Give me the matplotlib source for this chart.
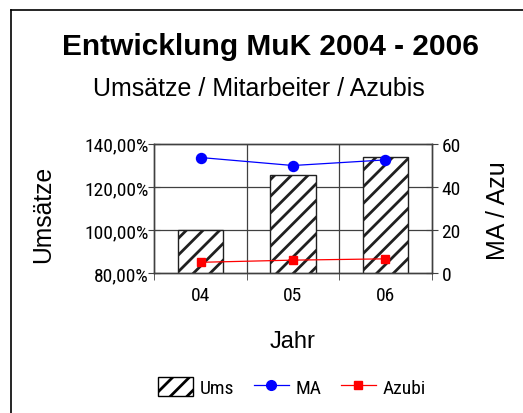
"""Entwicklung MuK 2004 - 2006: Umsatz-Balken mit MA/Azubi-Linien."""
import matplotlib
matplotlib.use("Agg")
import matplotlib.pyplot as plt
from matplotlib.patches import Patch
from matplotlib.lines import Line2D
from matplotlib.ticker import FuncFormatter

# data
jahre = ["04", "05", "06"]
umsatz = [100.0, 125.4, 133.7]     # in %
mitarbeiter = [53.6, 49.9, 52.5]
azubis = [5.1, 6.1, 6.7]

plt.rcParams["font.family"] = ["Liberation Sans", "DejaVu Sans"]
plt.rcParams["hatch.linewidth"] = 2.0
narrow = ["Roboto Condensed", "Liberation Sans", "DejaVu Sans"]
muster = "//"

fig = plt.figure(figsize=(5.23, 4.14), dpi=100)
ax = fig.add_axes([0.295, 0.3374, 0.8254 - 0.295, 0.6505 - 0.3374])
ax2 = ax.twinx()

x = list(range(len(jahre)))
ax.bar(x, umsatz, width=0.49, bottom=0, color="white", edgecolor="#202020",
       hatch=muster, linewidth=1, zorder=2)
ax.set_ylim(80, 140)
ax.set_xlim(-0.5, 2.5)
ax.set_yticks([80, 100, 120, 140])
ax.yaxis.set_major_formatter(FuncFormatter(lambda v, p: "{:.2f}%".format(v).replace(".", ",")))
for y in [100, 120]:
    ax.axhline(y, color="#404040", lw=0.9, zorder=1)
for xv in [0.5, 1.5]:
    ax.axvline(xv, color="#404040", lw=0.9, zorder=1)

ax.set_xticks(x)
ax.set_xticklabels(jahre)
ax.tick_params(axis="x", length=0, pad=9)
ax.set_xticks([-0.5, 0.5, 1.5, 2.5], minor=True)
ax.tick_params(axis="x", which="minor", length=5, direction="out", color="#404040")
ax.tick_params(axis="y", direction="inout", length=8, pad=0, color="#404040")
for lab in ax.get_xticklabels() + ax.get_yticklabels():
    lab.set_family(narrow)
    lab.set_fontsize(14)

ax2.plot(x, mitarbeiter, color="#0000FF", lw=0.9, marker="o", ms=7.2, zorder=3)
ax2.plot(x, azubis, color="#FF0000", lw=0.9, marker="s", ms=5.4, zorder=3)
ax2.set_ylim(0, 60)
ax2.set_yticks([0, 20, 40, 60])
ax2.tick_params(axis="y", direction="inout", length=8, pad=3, color="#404040")
for lab in ax2.get_yticklabels():
    lab.set_family(narrow)
    lab.set_fontsize(14)
for a in (ax, ax2):
    for s in a.spines.values():
        s.set_color("#404040")
        s.set_linewidth(1)

fig.text(270 / 523, 1 - 47 / 414, "Entwicklung MuK 2004 - 2006", ha="center",
         va="center", fontsize=21.5, fontweight="bold")
fig.text(259 / 523, 1 - 89 / 414, "Umsätze / Mitarbeiter / Azubis", ha="center",
         va="center", fontsize=18)
fig.text(43 / 523, 1 - 214 / 414, "Umsätze", rotation=90, ha="center",
         va="center", fontsize=17.7)
fig.text(498 / 523, 1 - 211 / 414, "MA / Azu", rotation=90, ha="center",
         va="center", fontsize=18)
fig.text(293 / 523, 1 - 342 / 414, "Jahr", ha="center", va="center", fontsize=17)

handles = [
    Patch(facecolor="white", edgecolor="black", hatch=muster),
    Line2D([], [], color="#0000FF", lw=0.9, marker="o", ms=7),
    Line2D([], [], color="#FF0000", lw=0.9, marker="s", ms=5.4),
]
fig.legend(handles, ["Ums", "MA", "Azubi"], loc="center",
           bbox_to_anchor=(292 / 523, 1 - 388 / 414), ncol=3, frameon=False,
           handlelength=1.8, handleheight=1.1, handletextpad=0.35,
           columnspacing=1.0, prop={"family": narrow, "size": 14})

# outer chart border (only top and left visible)
fig.add_artist(Line2D([11 / 523, 11 / 523], [0, 1 - 11 / 414], color="black", lw=1.2,
                      transform=fig.transFigure))
fig.add_artist(Line2D([11 / 523, 1], [1 - 11 / 414, 1 - 11 / 414], color="black", lw=1.2,
                      transform=fig.transFigure))

fig.savefig("out.png", dpi=100, facecolor="white")
